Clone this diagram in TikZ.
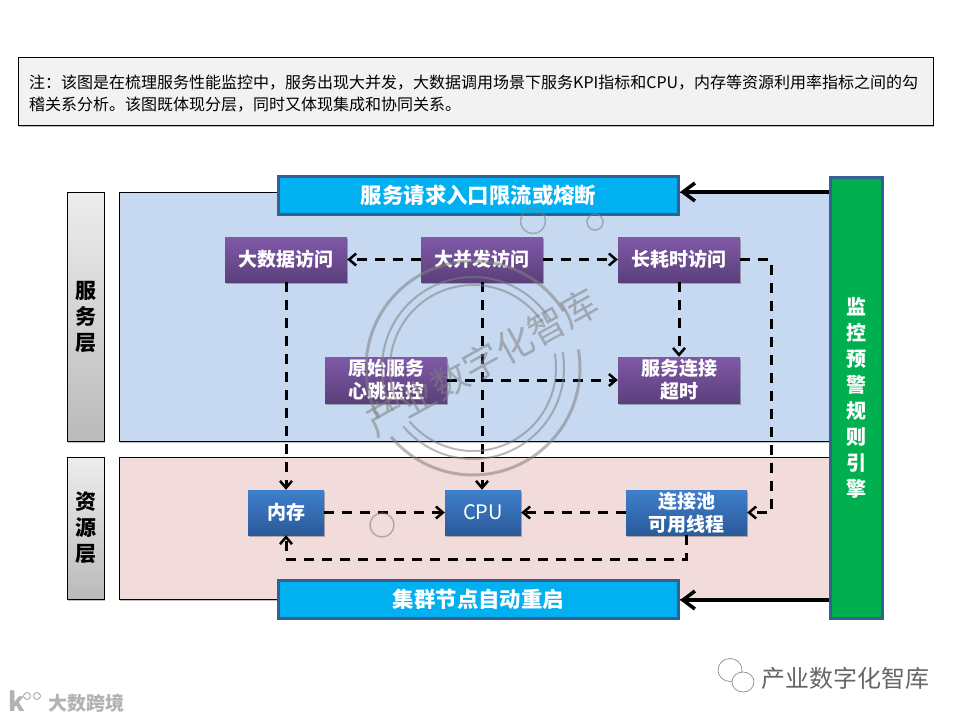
\documentclass[tikz,border=0pt]{standalone}
\usepackage{fontspec}
\setmainfont{Noto Sans CJK SC}
\usetikzlibrary{arrows.meta,shadows,shapes.geometric}

\definecolor{panelblue}{HTML}{C6D9F1}
\definecolor{panelred}{HTML}{F2DCDB}
\definecolor{barblue}{HTML}{00B0F0}
\definecolor{barline}{HTML}{376092}
\definecolor{engine}{HTML}{00B050}
\definecolor{purple1}{HTML}{8059A8}
\definecolor{purple2}{HTML}{5B3F7A}
\definecolor{blue1}{HTML}{3F7FCC}
\definecolor{blue2}{HTML}{2A5A99}

\tikzset{
	softshadow/.style={drop shadow={shadow xshift=1pt,shadow yshift=-2pt,opacity=.25,fill=black}},
	notebox/.style={draw=black,line width=1pt,fill=black!5,softshadow,minimum width=915pt,minimum height=68pt},
	panel/.style={draw=black,line width=1pt,minimum width=711pt},
	layerbox/.style={draw=black,line width=1pt,top color=black!7,bottom color=black!27,softshadow,minimum width=37pt,inner sep=0pt,
		align=center,font=\fontsize{21}{26}\selectfont\bfseries},
	barbox/.style={draw=barline,line width=3pt,fill=barblue,text=white,minimum width=400pt,minimum height=38pt,inner sep=0pt,
		font=\fontsize{21.4}{24}\selectfont\bfseries},
	purplebox/.style={fill=black,top color=purple1,bottom color=purple2,softshadow,text=white,minimum width=122pt,inner sep=0pt,
		align=center,font=\fontsize{19}{23}\selectfont\bfseries},
	bluebox/.style={fill=black,top color=blue1,bottom color=blue2,softshadow,text=white,minimum height=45pt,inner sep=0pt,
		align=center,font=\fontsize{19}{23}\selectfont\bfseries},
	dashlink/.style={draw=black,line width=3pt,dash pattern=on 10pt off 8pt,-{Straight Barb[length=7pt,width=12pt,line width=2.5pt]}},
	ctrllink/.style={draw=black,line width=4pt,-{Straight Barb[length=12pt,width=18pt,line width=3.5pt]}},
	stamp/.style={draw=gray,opacity=.55,line width=#1},
}

\begin{document}
\begin{tikzpicture}[x=1pt,y=-1pt]
	\useasboundingbox (0,0) rectangle (960,720);

	% Nota in alto
	\node[notebox] (nota) at (475.5,91) {};
	\node[anchor=west,inner sep=0pt,align=left,font=\fontsize{16}{22}\selectfont] (notatesto) at (29,94)
		{注：该图是在梳理服务性能监控中，服务出现大并发，大数据调用场景下服务KPI指标和CPU，内存等资源利用率指标之间的勾\\稽关系分析。该图既体现分层，同时又体现集成和协同关系。};

	% Livelli
	\node[panel,fill=panelblue,softshadow,minimum height=249pt] (fuwupanel) at (474.5,316.5) {};
	\node[panel,fill=panelred,softshadow,minimum height=142pt] (ziyuanpanel) at (474.5,528) {};
	\node[layerbox,minimum height=249pt] (fuwu) at (85.5,316.5) {服\\务\\层};
	\node[layerbox,minimum height=142pt] (ziyuan) at (85.5,528) {资\\源\\层};

	% Barre
	\node[barbox] (rukou) at (478.5,195.5) {服务请求入口限流或熔断};
	\node[barbox] (chongqi) at (478.5,599.5) {集群节点自动重启};
	\node[draw=barline,line width=3pt,fill=engine,text=white,minimum width=52pt,minimum height=441pt,inner sep=0pt,align=center,
		font=\fontsize{20}{26}\selectfont\bfseries] (yujing) at (856,397.5) {监\\控\\预\\警\\规\\则\\引\\擎};

	% Blocchi del servizio
	\node[purplebox,minimum height=45pt] (dashuju) at (286,259.5) {大数据访问};
	\node[purplebox,minimum height=45pt] (bingfa) at (482,259.5) {大并发访问};
	\node[purplebox,minimum height=45pt] (haoshi) at (679,259.5) {长耗时访问};
	\node[purplebox,minimum height=46pt] (yuanshi) at (386,380) {原始服务\\心跳监控};
	\node[purplebox,minimum height=46pt] (chaoshi) at (679,380) {服务连接\\超时};

	% Blocchi delle risorse
	\node[bluebox,minimum width=76pt] (neicun) at (286,512.5) {内存};
	\node[bluebox,minimum width=76pt] (cpu) at (483,512.5) {\mdseries\fontsize{20}{23}\selectfont CPU};
	\node[bluebox,minimum width=121pt] (lianjie) at (686.5,512.5) {连接池\\可用线程};

	% Collegamenti
	\draw[dashlink] (bingfa) -- (dashuju);
	\draw[dashlink] (bingfa) -- (haoshi);
	\draw[dashlink] (haoshi) -- (chaoshi);
	\draw[dashlink] (yuanshi) -- (chaoshi);
	\draw[dashlink] (dashuju) -- (neicun);
	\draw[dashlink] (bingfa.south) -- (bingfa.south |- cpu.north);
	\draw[dashlink] (neicun) -- (cpu);
	\draw[dashlink] (lianjie) -- (cpu);
	\coordinate (haoshigiu) at (771,512.5);
	\draw[dashlink] (haoshi.east) -| (haoshigiu) -- (lianjie.east);
	\coordinate (neicungiu) at (286,559);
	\draw[dashlink] (lianjie.south) |- (neicungiu) -- (neicun.south);
	\coordinate (yujingsu) at (829,192);
	\coordinate (yujingiu) at (829,600);
	\draw[ctrllink] (yujingsu) -- (rukou.east |- yujingsu);
	\draw[ctrllink] (yujingiu) -- (chongqi.east |- yujingiu);

	% Timbro
	\foreach \raggio/\spessore in {107/3pt,91/2pt,83/2pt} {
		\draw[stamp=\spessore] plot[domain=32:208,samples=60] ({473+\raggio*cos(\x)},{368-\raggio*sin(\x)});
		\draw[stamp=\spessore] plot[domain=10:-140,samples=60] ({473+\raggio*cos(\x)},{368-\raggio*sin(\x)});
	}
	\node[circle,stamp=1.5pt,minimum size=25pt] (bollaa) at (533,221) {};
	\node[circle,stamp=1.5pt,minimum size=16pt] (bollab) at (595,222) {};
	\node[circle,stamp=1.5pt,minimum size=24pt] (bollac) at (382,525) {};
	\node[rotate=29,text=gray,opacity=.55,font=\fontsize{37}{40}\selectfont] (timbro) at (482,362) {产业数字化智库};

	% Filigrane in basso
	\node[ellipse,draw=black!45,line width=.7pt,minimum width=24pt,minimum height=23pt,inner sep=0pt] (icona) at (730,670) {};
	\node[ellipse,draw=black!45,fill=white,line width=.7pt,minimum width=22pt,minimum height=20pt,inner sep=0pt] (iconb) at (743,682) {};
	\node[anchor=west,inner sep=0pt,text=black!60,font=\fontsize{24}{26}\selectfont] (firma) at (761,678) {产业数字化智库};
	\node[anchor=west,inner sep=0pt,text=black!30,font=\fontsize{26}{28}\selectfont\bfseries] (logo) at (8,701) {k};
	\node[circle,draw=black!30,line width=1pt,minimum size=7pt,inner sep=0pt] (logoa) at (27,696) {};
	\node[circle,draw=black!30,line width=1pt,minimum size=7pt,inner sep=0pt] (logob) at (37,696) {};
	\node[anchor=west,inner sep=0pt,text=black!30,font=\fontsize{19}{22}\selectfont\bfseries] (marchio) at (48,703) {大数跨境};
\end{tikzpicture}
\end{document}
